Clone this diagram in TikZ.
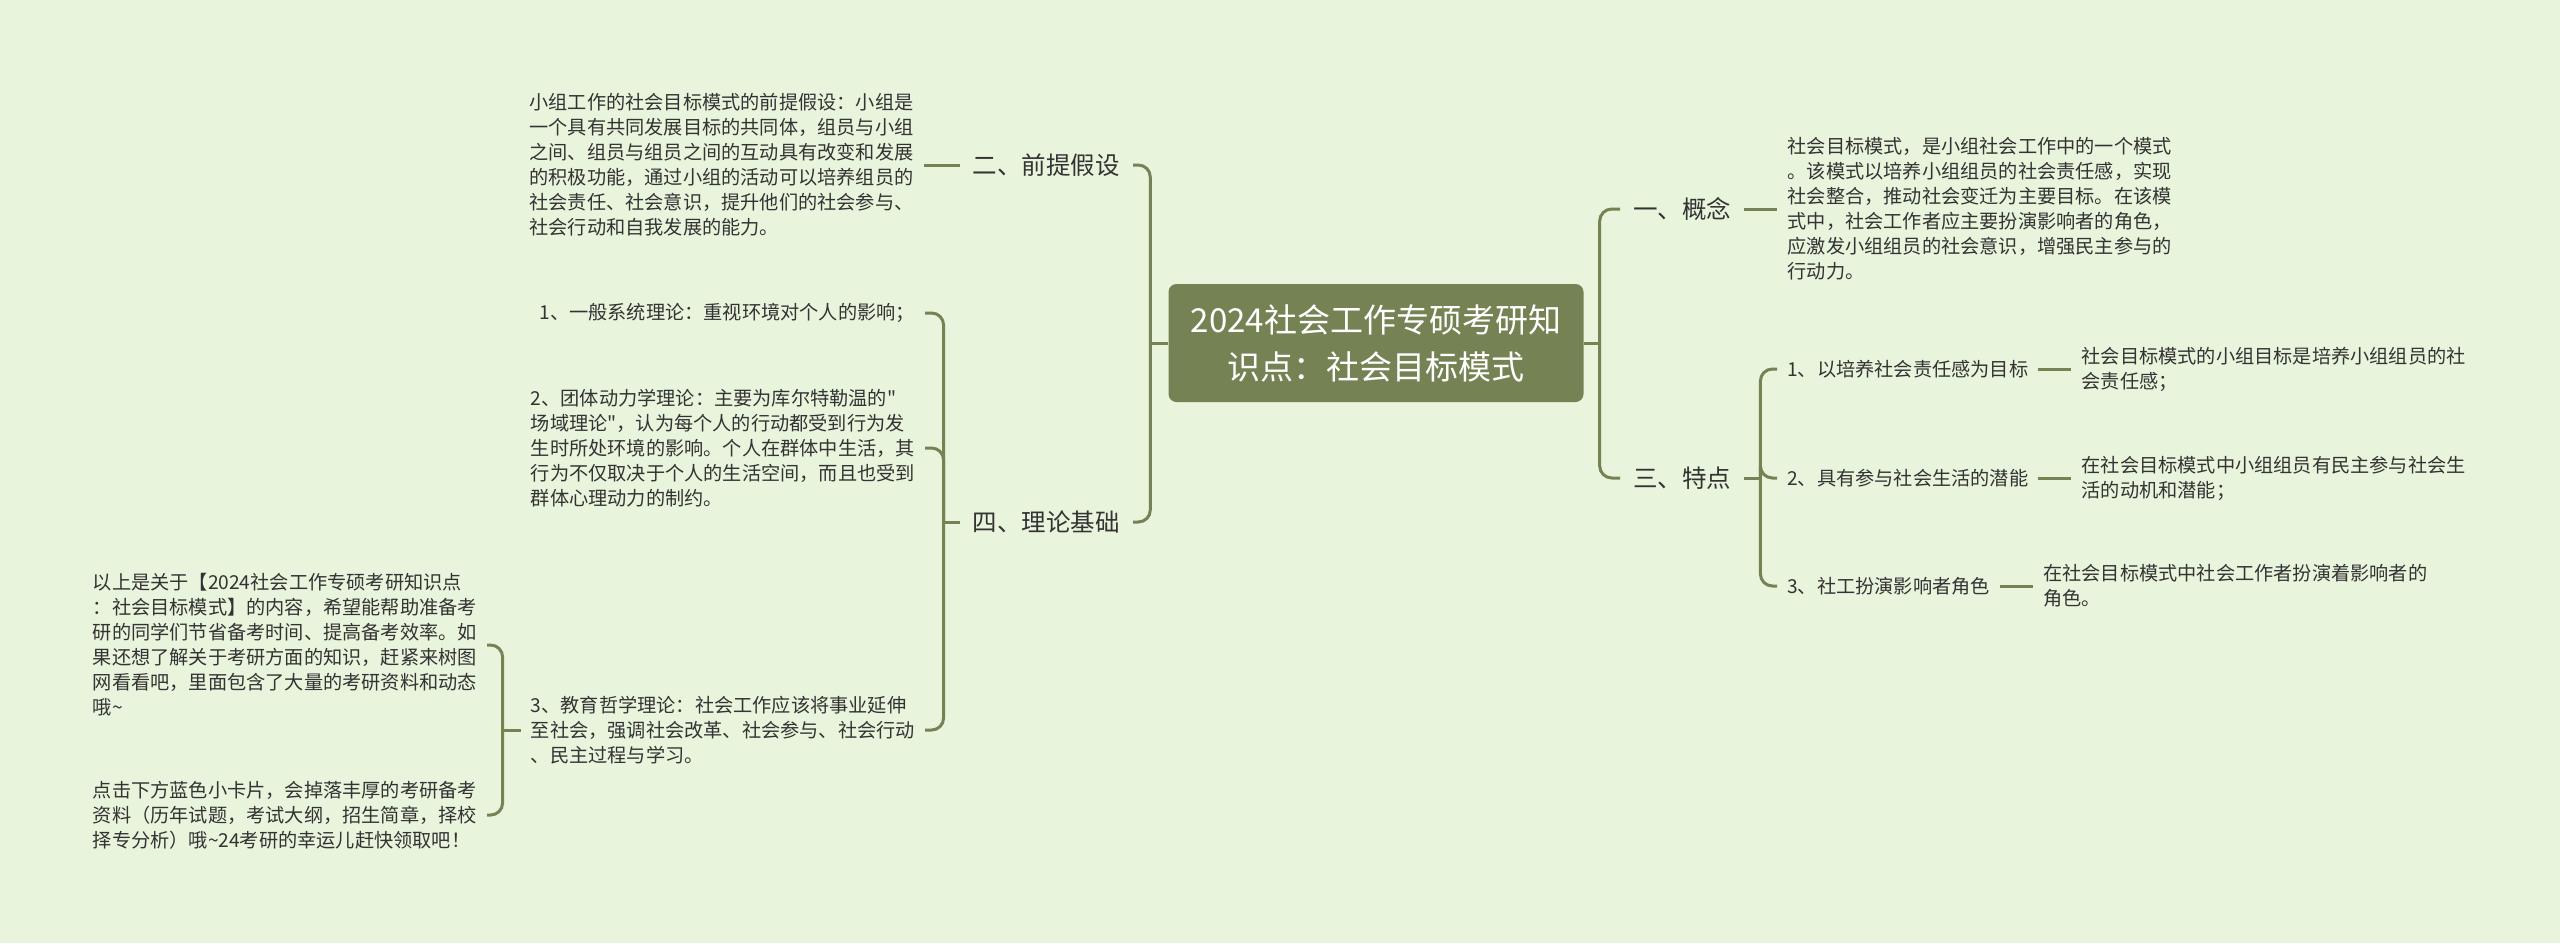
\documentclass[tikz,border=0pt]{standalone}
\usepackage{fontspec}
\newfontfamily\cjk{Noto Sans CJK SC}
\usetikzlibrary{positioning}
\definecolor{mapbg}{RGB}{232,244,220}
\definecolor{mapgreen}{RGB}{117,131,84}
\definecolor{mapink}{RGB}{51,51,51}
\begin{document}
\begin{tikzpicture}[x=1pt, y=-1pt,
  rootbox/.style={fill=mapgreen, rounded corners=8pt, text=white, align=center,
    minimum width=415pt, minimum height=118pt, font=\cjk\fontsize{33}{47}\selectfont},
  branch/.style={text=mapink, inner xsep=13pt, font=\cjk\fontsize{24.5}{30}\selectfont},
  leaf/.style={text=mapink, inner xsep=10pt, align=left, font=\cjk\fontsize{19.2}{25}\selectfont},
  link/.style={draw=mapgreen, line width=3pt, rounded corners=12pt}]
% Background
\fill[mapbg] (0,0) rectangle (2560,943);
% Root
\node[rootbox] (root) at (1376,343) {2024社会工作专硕考研知\\识点：社会目标模式};
% Right side
\node[branch, anchor=west] (gn) at (1620,209) {一、概念};
\node[leaf, right=33pt of gn] (gnx) {社会目标模式，是小组社会工作中的一个模式\\。该模式以培养小组组员的社会责任感，实现\\社会整合，推动社会变迁为主要目标。在该模\\式中，社会工作者应主要扮演影响者的角色，\\应激发小组组员的社会意识，增强民主参与的\\行动力。};
\node[branch, anchor=west] (td) at (1620,478) {三、特点};
\node[leaf, anchor=west] (t1) at (1777,369) {1、以培养社会责任感为目标};
\node[leaf, right=33pt of t1] (t1x) {社会目标模式的小组目标是培养小组组员的社\\会责任感；};
\node[leaf, anchor=west] (t2) at (1777,478) {2、具有参与社会生活的潜能};
\node[leaf, right=33pt of t2] (t2x) {在社会目标模式中小组组员有民主参与社会生\\活的动机和潜能；};
\node[leaf, anchor=west] (t3) at (1777,586) {3、社工扮演影响者角色};
\node[leaf, right=33pt of t3] (t3x) {在社会目标模式中社会工作者扮演着影响者的\\角色。};
% Left side
\node[branch, anchor=east] (qt) at (1133,165) {二、前提假设};
\node[leaf, left=36pt of qt] (qtx) {小组工作的社会目标模式的前提假设：小组是\\一个具有共同发展目标的共同体，组员与小组\\之间、组员与组员之间的互动具有改变和发展\\的积极功能，通过小组的活动可以培养组员的\\社会责任、社会意识，提升他们的社会参与、\\社会行动和自我发展的能力。};
\node[branch, anchor=east] (ll) at (1133,522) {四、理论基础};
\node[leaf, anchor=east] (l1) at (925,313) {1、一般系统理论：重视环境对个人的影响；};
\node[leaf, anchor=east] (l2) at (925,448) {2、团体动力学理论：主要为库尔特勒温的"\\场域理论"，认为每个人的行动都受到行为发\\生时所处环境的影响。个人在群体中生活，其\\行为不仅取决于个人的生活空间，而且也受到\\群体心理动力的制约。};
\node[leaf, anchor=east] (l3) at (925,730) {3、教育哲学理论：社会工作应该将事业延伸\\至社会，强调社会改革、社会参与、社会行动\\、民主过程与学习。};
\node[leaf, anchor=east] (ea) at (487,645) {以上是关于【2024社会工作专硕考研知识点\\：社会目标模式】的内容，希望能帮助准备考\\研的同学们节省备考时间、提高备考效率。如\\果还想了解关于考研方面的知识，赶紧来树图\\网看看吧，里面包含了大量的考研资料和动态\\哦\textasciitilde};
\node[leaf, anchor=east] (eb) at (487,815) {点击下方蓝色小卡片，会掉落丰厚的考研备考\\资料（历年试题，考试大纲，招生简章，择校\\择专分析）哦\textasciitilde 24考研的幸运儿赶快领取吧！};
% Connectors
\coordinate (rj) at ([xshift=16pt]root.east);
\coordinate (lj) at ([xshift=-18pt]root.west);
\coordinate (tdj) at ([xshift=16pt]td.east);
\coordinate (llj) at ([xshift=-16pt]ll.west);
\coordinate (l3j) at ([xshift=-18pt]l3.west);
\draw[link] (root.east) -- (rj);
\draw[link] (root.west) -- (lj);
\foreach \n in {gn,td} \draw[link] (rj) |- (\n.west);
\foreach \n in {qt,ll} \draw[link] (lj) |- (\n.east);
\draw[link] (td.east) -- (tdj);
\foreach \n in {t1,t2,t3} \draw[link] (tdj) |- (\n.west);
\draw[link] (ll.west) -- (llj);
\foreach \n in {l1,l2,l3} \draw[link] (llj) |- (\n.east);
\draw[link] (l3.west) -- (l3j);
\foreach \n in {ea,eb} \draw[link] (l3j) |- (\n.east);
\draw[link] (gn.east) -- (gnx.west);
\draw[link] (qt.west) -- (qtx.east);
\draw[link] (t1.east) -- (t1x.west);
\draw[link] (t2.east) -- (t2x.west);
\draw[link] (t3.east) -- (t3x.west);
\end{tikzpicture}
\end{document}
